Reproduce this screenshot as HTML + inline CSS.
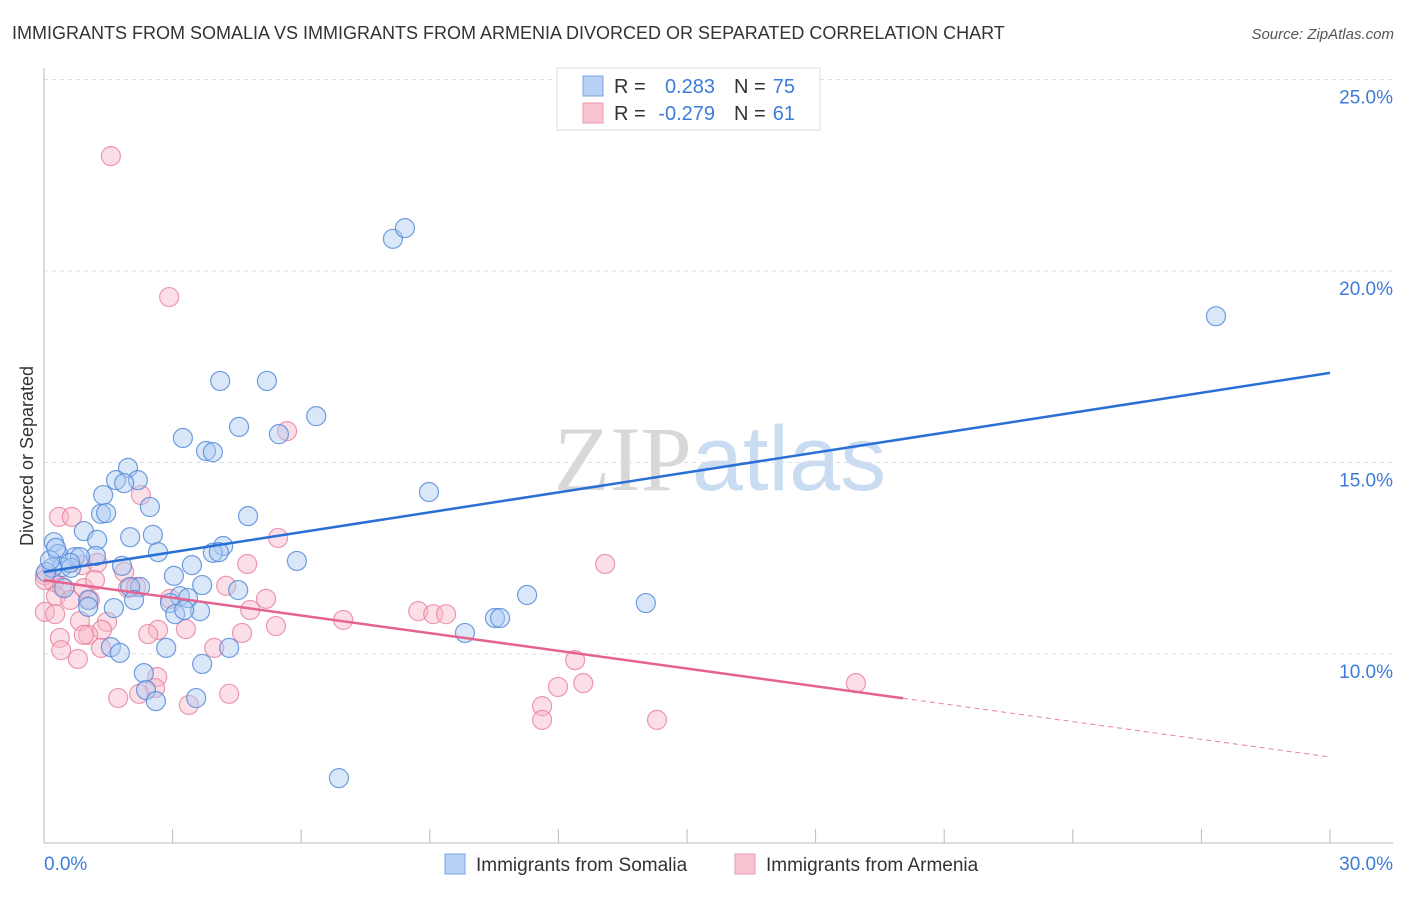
<!DOCTYPE html>
<html><head><meta charset="utf-8"><style>
body{margin:0;background:#fff;font-family:"Liberation Sans",sans-serif;}
svg text{font-family:"Liberation Sans",sans-serif;}
</style></head><body>
<svg id="chart" width="1406" height="892" xmlns="http://www.w3.org/2000/svg">
<text x="12" y="39" font-size="18" fill="#333">IMMIGRANTS FROM SOMALIA VS IMMIGRANTS FROM ARMENIA DIVORCED OR SEPARATED CORRELATION CHART</text>
<text x="1394" y="39" font-size="15" fill="#555" text-anchor="end" font-style="italic">Source: ZipAtlas.com</text>
<text x="720" y="490" font-size="92" text-anchor="middle" fill="#dde3ea"><tspan font-family="Liberation Serif" fill="#d8d8d8">ZIP</tspan><tspan fill="#c9dcf2">atlas</tspan></text>
<g id="grid"></g>
<g id="axes"></g>
<g id="pts"></g>
<g id="trend"></g>
<text transform="translate(33,456) rotate(-90)" font-size="18" fill="#333" text-anchor="middle">Divorced or Separated</text>
<g>
<rect x="557" y="68" width="263" height="62" fill="#fff" stroke="#ddd"/>
<rect x="583" y="76" width="20" height="20" fill="#b7d0f3" stroke="#7aa4e0"/>
<rect x="583" y="103" width="20" height="20" fill="#f8c4d2" stroke="#eb98b0"/>
<text x="614" y="93" font-size="20" fill="#333">R =</text>
<text x="715" y="93" font-size="20" fill="#3d7bd9" text-anchor="end">0.283</text>
<text x="734" y="93" font-size="20" fill="#333">N =</text>
<text x="795" y="93" font-size="20" fill="#3d7bd9" text-anchor="end">75</text>
<text x="614" y="120" font-size="20" fill="#333">R =</text>
<text x="715" y="120" font-size="20" fill="#3d7bd9" text-anchor="end">-0.279</text>
<text x="734" y="120" font-size="20" fill="#333">N =</text>
<text x="795" y="120" font-size="20" fill="#3d7bd9" text-anchor="end">61</text>
</g>
<g>
<rect x="445" y="854" width="20" height="20" fill="#b7d0f3" stroke="#7aa4e0"/>
<text x="476" y="871" font-size="19" fill="#333">Immigrants from Somalia</text>
<rect x="735" y="854" width="20" height="20" fill="#f8c4d2" stroke="#eb98b0"/>
<text x="766" y="871" font-size="19" fill="#333">Immigrants from Armenia</text>
</g>
</svg>
<script>
const blueX=[8.14,8.42,27.34,4.11,5.20,6.35,3.24,4.55,5.48,3.78,3.94,1.96,1.68,2.19,1.87,1.38,8.98,2.47,1.33,1.45,4.76,0.93,2.54,1.24,2.01,0.23,4.18,2.66,3.94,4.08,0.33,0.72,1.21,0.84,5.90,3.45,1.82,0.42,0.63,0.19,0.05,3.03,3.69,2.24,2.01,4.53,0.47,1.03,11.27,2.10,3.17,2.94,3.36,1.63,1.03,14.04,3.06,3.64,3.27,10.52,10.64,9.82,1.56,1.77,2.85,4.32,3.69,2.33,2.38,2.61,3.55,6.88,0.14,0.28,0.61];
const blueY=[20.84,21.12,18.82,17.13,17.13,16.21,15.64,15.93,15.74,15.30,15.27,14.86,14.54,14.54,14.46,14.15,14.23,13.84,13.66,13.68,13.60,13.21,13.11,12.98,13.05,12.92,12.82,12.66,12.64,12.66,12.61,12.53,12.56,12.53,12.43,12.32,12.30,12.27,12.25,12.25,12.14,12.04,11.80,11.75,11.75,11.67,11.72,11.41,11.54,11.41,11.51,11.33,11.46,11.20,11.23,11.33,11.04,11.12,11.15,10.94,10.94,10.55,10.18,10.03,10.16,10.16,9.74,9.50,9.06,8.77,8.85,6.76,12.45,12.77,12.38];
const pinkX=[1.56,2.92,5.67,2.26,0.35,0.65,5.46,13.09,4.74,1.87,0.89,1.24,0.02,0.23,0.42,1.96,2.15,0.93,4.25,2.94,5.18,0.28,0.02,0.26,1.07,4.81,8.73,9.08,9.38,6.98,5.41,0.84,1.47,1.35,3.31,2.66,2.43,4.62,0.37,1.03,0.93,0.40,1.33,3.97,0.79,12.39,2.64,2.59,11.99,12.58,18.94,1.73,2.22,4.32,3.38,11.62,11.62,14.30,0.61,0.02,1.19];
const pinkY=[23.00,19.32,15.82,14.15,13.58,13.58,13.03,12.35,12.35,12.14,12.32,12.38,12.06,11.88,11.75,11.72,11.75,11.72,11.78,11.44,11.44,11.51,11.10,11.04,11.41,11.15,11.12,11.04,11.04,10.89,10.73,10.86,10.84,10.63,10.65,10.63,10.52,10.55,10.42,10.50,10.50,10.10,10.16,10.16,9.87,9.84,9.40,9.11,9.14,9.24,9.24,8.85,8.96,8.96,8.67,8.64,8.28,8.28,11.41,11.93,11.93];
const yTicks=[10,15,20,25];
const yTickLabels=["10.0%","15.0%","20.0%","25.0%"];
const xTicks=[0,3,6,9,12,15,18,21,24,27,30];
const xEndLabels=["0.0%","30.0%"];
const blueTrend=[12.14,17.34];   // value at x=0 and x=30
const pinkTrend=[11.93,7.31];    // value at x=0 and x=30
const pinkSolidEnd=20.04;

const NS="http://www.w3.org/2000/svg";
const X0=44,X1=1330,PY0=1037,PPU=38.3;
const sx=v=>X0+(v/30)*(X1-X0);
const sy=v=>PY0-v*PPU;
function mk(tag,attrs,parent){const e=document.createElementNS(NS,tag);for(const k in attrs)e.setAttribute(k,attrs[k]);parent.appendChild(e);return e;}
const grid=document.getElementById('grid'),axes=document.getElementById('axes'),pts=document.getElementById('pts'),trend=document.getElementById('trend');
yTicks.forEach((t,i)=>{
  const l=mk('line',{x1:44,x2:1393,y1:sy(t),y2:sy(t),stroke:'#ddd','stroke-dasharray':'4,4'},grid);
  
  
  const tx=mk('text',{x:1393,y:sy(t)+24,'font-size':19,fill:'#3d7bd9','text-anchor':'end'},grid);
  tx.textContent=yTickLabels[i];
  
  
});
let a=mk('line',{x1:44,x2:44,y1:68,y2:843,stroke:'#bbb'},axes);


a=mk('line',{x1:44,x2:1393,y1:843,y2:843,stroke:'#bbb'},axes);


xTicks.forEach(t=>{
  const l=mk('line',{x1:sx(t),x2:sx(t),y1:829,y2:843,stroke:'#bbb'},axes);
  
  
});
let t1=mk('text',{x:44,y:870,'font-size':19,fill:'#3d7bd9'},axes);t1.textContent=xEndLabels[0];


let t2=mk('text',{x:1393,y:870,'font-size':19,fill:'#3d7bd9','text-anchor':'end'},axes);t2.textContent=xEndLabels[1];


function dots(xs,ys,fill,stroke,name){xs.forEach((x,i)=>{
  const c=mk('circle',{cx:sx(x),cy:sy(ys[i]),r:9.5,fill:fill,'fill-opacity':0.45,stroke:stroke,'stroke-width':1.2,'stroke-opacity':0.8},pts);
  
  
});}
dots(pinkX,pinkY,'#f7b6c8','#e8809f','point-armenia');
dots(blueX,blueY,'#aac9f2','#4f86d6','point-somalia');
const bl=mk('line',{x1:sx(0),y1:sy(blueTrend[0]),x2:sx(30),y2:sy(blueTrend[1]),stroke:'#2a6fd6','stroke-width':2.5},trend);


const pAt=x=>pinkTrend[0]+(pinkTrend[1]-pinkTrend[0])*x/30;
const pl=mk('line',{x1:sx(0),y1:sy(pAt(0)),x2:sx(pinkSolidEnd),y2:sy(pAt(pinkSolidEnd)),stroke:'#e5638f','stroke-width':2.5},trend);


const pd=mk('line',{x1:sx(pinkSolidEnd),y1:sy(pAt(pinkSolidEnd)),x2:sx(30),y2:sy(pAt(30)),stroke:'#e8819f','stroke-width':1,'stroke-dasharray':'5,4'},trend);


</script>
</body></html>
